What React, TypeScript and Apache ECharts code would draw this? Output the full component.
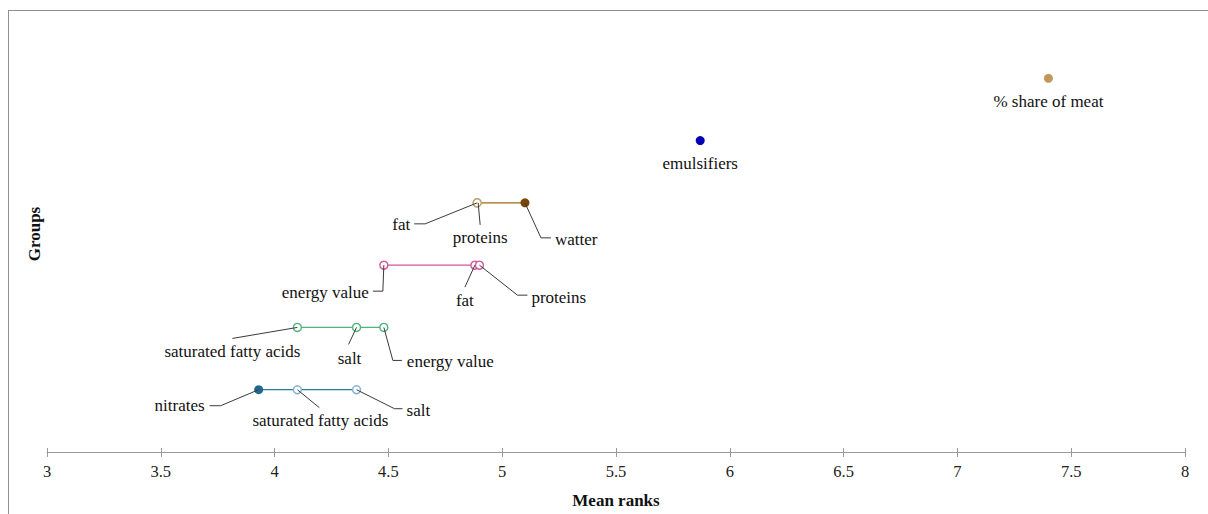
import React, { useEffect, useRef } from "react";
import * as echarts from "echarts";

// ---- data ----
const groupY = [1, 2, 3, 4, 5, 6];

const g1Names = ["nitrates", "saturated fatty acids", "salt"];
const g1Ranks = [3.93, 4.1, 4.36];

const g2Names = ["saturated fatty acids", "salt", "energy value"];
const g2Ranks = [4.1, 4.36, 4.48];

const g3Names = ["energy value", "fat", "proteins"];
const g3Ranks = [4.48, 4.88, 4.9];

const g4Names = ["fat", "proteins", "watter"];
const g4Ranks = [4.89, 4.89, 5.1];

const g5Names = ["emulsifiers"];
const g5Ranks = [5.87];

const g6Names = ["% share of meat"];
const g6Ranks = [7.4];

const xTicks = { min: 3, max: 8, interval: 0.5 };

// ---- styles ----
const FONT = '"Liberation Serif", "Times New Roman", serif';

type PtStyle = { fill: boolean; color: string };
const groupStyles = [
  { line: "#2b7aa1", pts: [{ fill: true, color: "#1f6990" }, { fill: false, color: "#7eb0d2" }, { fill: false, color: "#7eb0d2" }] },
  { line: "#4db47b", pts: [{ fill: false, color: "#4db47b" }, { fill: false, color: "#4db47b" }, { fill: false, color: "#4db47b" }] },
  { line: "#d4559b", pts: [{ fill: false, color: "#d4559b" }, { fill: false, color: "#d4559b" }, { fill: false, color: "#d4559b" }] },
  { line: "#9c6a10", pts: [{ fill: false, color: "#c6a174" }, { fill: false, color: "#c6a174" }, { fill: true, color: "#774606" }] },
  { line: "#0000b4", pts: [{ fill: true, color: "#0000b4" }] },
  { line: "#c09858", pts: [{ fill: true, color: "#c09858" }] },
];

// label layout (pixel offsets from the point): guide polyline + text anchor
type LabelLayout = { guide?: number[][]; tx: number; ty: number; align: "left" | "right" | "center" };
const labelLayouts: LabelLayout[][] = [
  [
    { guide: [[0, 0], [-38, 16], [-49, 16]], tx: -54, ty: 16, align: "right" },
    { guide: [[0, 0], [22, 18]], tx: 23, ty: 31, align: "center" },
    { guide: [[0, 0], [38, 19], [46, 19]], tx: 50, ty: 21, align: "left" },
  ],
  [
    { guide: [[0, 0], [-65, 11]], tx: -65, ty: 24, align: "center" },
    { guide: [[0, 0], [-8, 17]], tx: -7, ty: 31, align: "center" },
    { guide: [[0, 0], [9, 33], [18, 33]], tx: 23, ty: 34, align: "left" },
  ],
  [
    { guide: [[0, 0], [-1, 26], [-11, 26]], tx: -15, ty: 27, align: "right" },
    { guide: [[0, 0], [-10, 22]], tx: -10, ty: 35, align: "center" },
    { guide: [[0, 0], [38, 30], [48, 30]], tx: 52, ty: 32, align: "left" },
  ],
  [
    { guide: [[0, 0], [-52, 21], [-63, 21]], tx: -67, ty: 22, align: "right" },
    { guide: [[1, 0], [3, 22]], tx: 3, ty: 35, align: "center" },
    { guide: [[0, 0], [16, 35], [26, 35]], tx: 30, ty: 37, align: "left" },
  ],
  [{ tx: 0, ty: 23, align: "center" }],
  [{ tx: 0, ty: 23, align: "center" }],
];

const allNames = [g1Names, g2Names, g3Names, g4Names, g5Names, g6Names];
const allRanks = [g1Ranks, g2Ranks, g3Ranks, g4Ranks, g5Ranks, g6Ranks];

export default function App() {
  const ref = useRef<HTMLDivElement>(null);
  useEffect(() => {
    if (!ref.current) return;
    const chart = echarts.init(ref.current, null, { renderer: "svg" });

    const lineSeries = allRanks.map((ranks, gi) => ({
      type: "line",
      z: 3,
      symbol: "circle",
      symbolSize: 9,
      lineStyle: { color: groupStyles[gi].line, width: 1.3 },
      data: ranks.map((r, pi) => {
        const s: PtStyle = groupStyles[gi].pts[pi];
        return {
          value: [r, groupY[gi]],
          symbolSize: s.fill ? 9 : 8,
          itemStyle: s.fill
            ? { color: s.color, borderWidth: 0 }
            : { color: "#ffffff", borderColor: s.color, borderWidth: 1.4 },
        };
      }),
    }));

    const labelData: number[][] = [];
    allRanks.forEach((ranks, gi) => ranks.forEach((r, pi) => labelData.push([r, groupY[gi], gi, pi])));

    const labelSeries = {
      type: "custom",
      z: 5,
      data: labelData,
      renderItem: (_params: any, api: any) => {
        const gi = api.value(2);
        const pi = api.value(3);
        const p = api.coord([api.value(0), api.value(1)]);
        const L = labelLayouts[gi][pi];
        const children: any[] = [];
        if (L.guide) {
          children.push({
            type: "polyline",
            shape: { points: L.guide.map(([dx, dy]) => [p[0] + dx, p[1] + dy]) },
            style: { stroke: "#3a3a3a", lineWidth: 1, fill: null },
          });
        }
        children.push({
          type: "text",
          style: {
            text: allNames[gi][pi],
            x: p[0] + L.tx,
            y: p[1] + L.ty,
            align: L.align,
            verticalAlign: "middle",
            font: `17px ${FONT}`,
            fill: "#111",
          },
        });
        return { type: "group", children };
      },
    };

    chart.setOption({
      animation: false,
      textStyle: { fontFamily: FONT },
      grid: { left: 47, right: 23, top: 16, bottom: 61 },
      graphic: [
        { type: "line", shape: { x1: 8.5, y1: 10, x2: 8.5, y2: 514 }, style: { stroke: "#8f8f8f", lineWidth: 1 } },
        { type: "line", shape: { x1: 8, y1: 10.5, x2: 1208, y2: 10.5 }, style: { stroke: "#8f8f8f", lineWidth: 1 } },
      ],
      xAxis: [
        {
          type: "value",
          min: xTicks.min,
          max: xTicks.max,
          interval: xTicks.interval,
          name: "Mean ranks",
          nameLocation: "middle",
          nameGap: 40,
          nameTextStyle: { fontFamily: FONT, fontWeight: "bold", fontSize: 17, color: "#111" },
          axisLine: { show: true, lineStyle: { color: "#9a9a9a", width: 1 } },
          axisTick: { show: true, length: 5, lineStyle: { color: "#9a9a9a" } },
          axisLabel: { fontFamily: FONT, fontSize: 16.5, color: "#222", margin: 11 },
          splitLine: { show: false },
        },
        {
          type: "value",
          position: "bottom",
          min: xTicks.min,
          max: xTicks.max,
          interval: xTicks.interval,
          axisLine: { show: false },
          axisTick: { show: true, inside: true, length: 4, lineStyle: { color: "#9a9a9a" } },
          axisLabel: { show: false },
          splitLine: { show: false },
        },
      ],
      yAxis: {
        type: "value",
        min: 0,
        max: 7,
        name: "Groups",
        nameLocation: "middle",
        nameGap: 4,
        nameTextStyle: { fontFamily: FONT, fontWeight: "bold", fontSize: 17, color: "#111" },
        axisLine: { show: false },
        axisTick: { show: false },
        axisLabel: { show: false },
        splitLine: { show: false },
      },
      series: [...lineSeries, labelSeries],
    });
    return () => chart.dispose();
  }, []);
  return <div ref={ref} style={{ position: "absolute", left: 0, top: 0, width: 1208, height: 514 }} />;
}
